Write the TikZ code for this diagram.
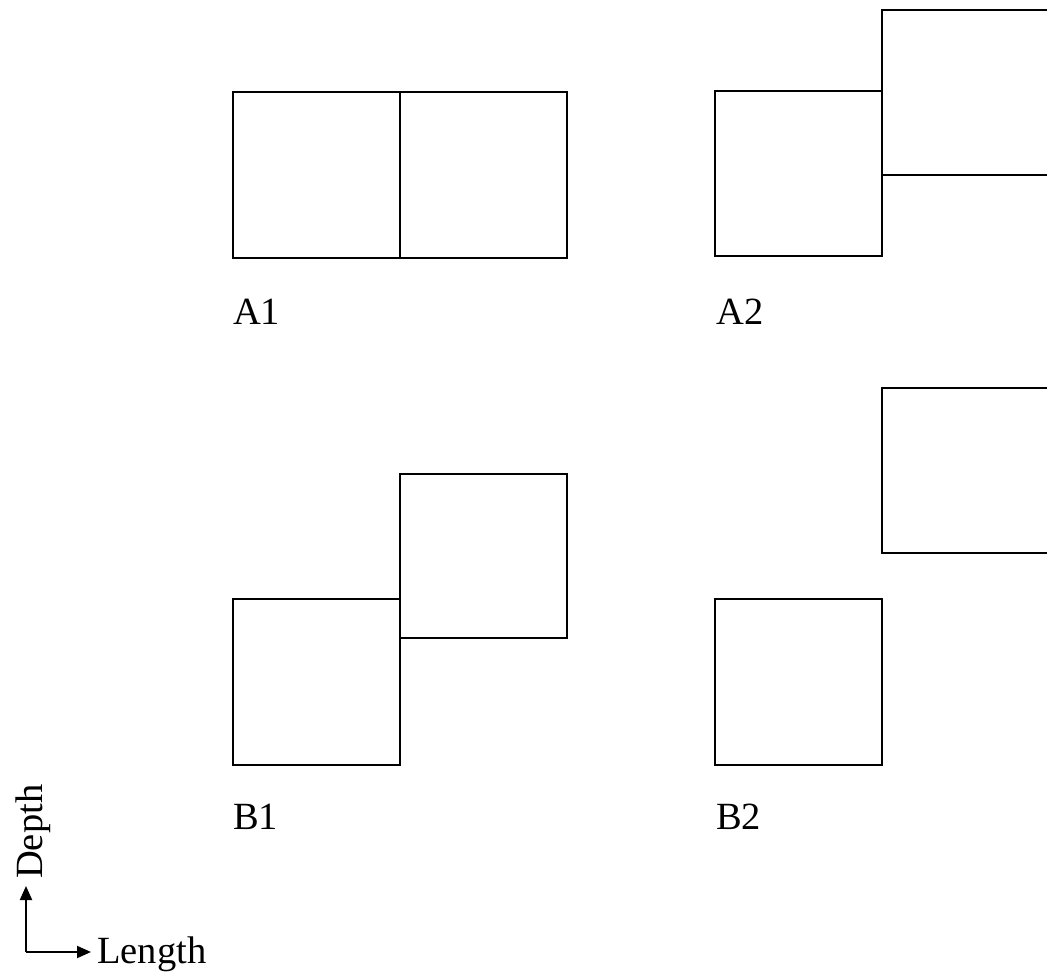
\documentclass[tikz,border=0pt]{standalone}
\usepackage{fontspec}
\setmainfont{Liberation Serif}
\usetikzlibrary{arrows.meta}
\begin{document}
\begin{tikzpicture}[x=1pt,y=-1pt,
  box/.style={draw=black,line width=2pt},
  lbl/.style={anchor=base west,inner sep=0pt,font=\fontsize{38.5}{40}\selectfont},
  axis/.style={line width=2pt,-{Triangle[length=14pt,width=12pt]}}]
\useasboundingbox (0,0) rectangle (1047,973);
\clip (0,0) rectangle (1047,973);
% A1
\draw[box] (233,92) rectangle (400,258);
\draw[box] (400,92) rectangle (567,258);
\node[lbl] (A1) at (233,325) {A1};
% A2
\draw[box] (715,91) rectangle (882,256);
\draw[box] (882,10) rectangle (1060,175);
\node[lbl] (A2) at (716,325) {A2};
% B1
\draw[box] (233,599) rectangle (400,765);
\draw[box] (400,474) rectangle (567,638);
\node[lbl] (B1) at (233,829) {B1};
% B2
\draw[box] (715,599) rectangle (882,765);
\draw[box] (882,388) rectangle (1060,553);
\node[lbl] (B2) at (716,829) {B2};
% axes
\coordinate (O) at (26,952);
\coordinate (Ytip) at (26,886);
\coordinate (Xtip) at (91,952);
\draw[axis] (O) -- (Ytip);
\draw[axis] (O) -- (Xtip);
\node[lbl,rotate=90] (depth) at (42,879) {Depth};
\node[lbl] (length) at (97,963) {Length};
\end{tikzpicture}
\end{document}
